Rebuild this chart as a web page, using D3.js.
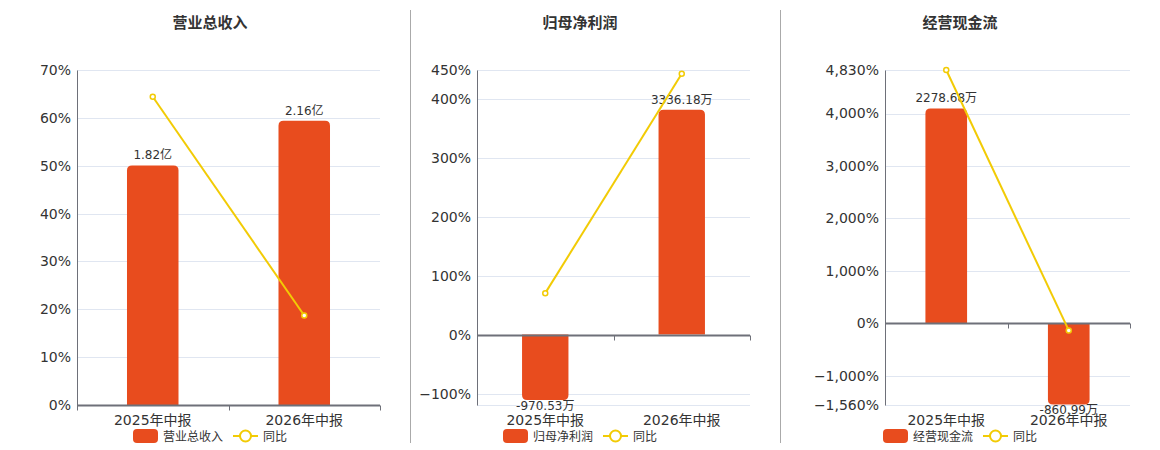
<!DOCTYPE html>
<html>
<head>
<meta charset="utf-8">
<script src="https://cdn.jsdelivr.net/npm/d3@7"></script>
<style>
  body { margin: 0; background: #fff; }
  text { font-family: "DejaVu Sans", "Noto Sans CJK SC", sans-serif; }
</style>
</head>
<body>
<svg id="chart" width="1160" height="450"></svg>
<script>
// data
const periods = ["2025年中报", "2026年中报"];
const titles = ["营业总收入", "归母净利润", "经营现金流"];
const barNames = ["营业总收入", "归母净利润", "经营现金流"];
const revenue = [1.82, 2.16];          // 亿
const netProfit = [-970.53, 3336.18];  // 万
const cashFlow = [2278.68, -860.99];   // 万
const revenueYoy = [64.4, 18.7];
const profitYoy = [71.0, 443.7];
const cashYoy = [4830, -137.8];
const revenueLabels = ["1.82亿", "2.16亿"];
const profitLabels = ["-970.53万", "3336.18万"];
const cashLabels = ["2278.68万", "-860.99万"];
const revenueTicks = [0, 10, 20, 30, 40, 50, 60, 70];
const profitTicks = [-100, 0, 100, 200, 300, 400, 450];
const cashTicks = [-1560, -1000, 0, 1000, 2000, 3000, 4000, 4830];
const revenuePctDomain = [0, 70];
const profitPctDomain = [-119, 450];
const cashPctDomain = [-1560, 4830];
const revenueBarDomain = [0, 2.545];
const profitBarDomain = [-1046, 3927];
const cashBarDomain = [-867, 2686];

const barColor = "#E84C1E";
const lineColor = "#F2CB05";
const svg = d3.select("#chart");
const plotTop = 70, plotBottom = 405;
const fmt = d3.format(",");

function drawPanel(p) {
    const g = svg.append("g");

    const x = d3.scaleBand().domain(periods).range([p.left, p.right]);
    const y = d3.scaleLinear().domain(p.pctDomain).range([plotBottom, plotTop]);
    const yb = d3.scaleLinear().domain(p.barDomain).range([plotBottom, plotTop]);

    // title
    g.append("text")
        .attr("x", p.center)
        .attr("y", 28)
        .attr("text-anchor", "middle")
        .style("font-size", "15px")
        .style("font-weight", "bold")
        .style("fill", "#333")
        .text(p.title)

    // grid
    g.selectAll("line.grid")
        .data(p.ticks.concat([p.pctDomain[0]]))
        .enter()
        .append("line")
        .attr("class", "grid")
        .attr("x1", p.left)
        .attr("x2", p.right)
        .attr("y1", d => Math.round(y(d)) + 0.5)
        .attr("y2", d => Math.round(y(d)) + 0.5)
        .style("stroke", "#E0E6F1")

    // left axis
    const yAxis = d3.axisLeft(y)
        .tickValues(p.ticks)
        .tickSize(0)
        .tickPadding(6)
        .tickFormat(d => fmt(d) + "%");
    const ya = g.append("g")
        .attr("transform", "translate(" + p.left + ",0)")
        .call(yAxis);
    ya.select(".domain").style("stroke", "#6E7079");
    ya.selectAll("text")
        .style("font-size", "14px")
        .style("fill", "#333")

    // bars
    g.selectAll("path.bar")
        .data(p.bars)
        .enter()
        .append("path")
        .attr("class", "bar")
        .attr("d", function(d, i) {
            const bw = x.bandwidth() * 0.34;
            const cx = x(periods[i]) + x.bandwidth() / 2;
            const x0 = cx - bw / 2, x1 = cx + bw / 2;
            const y0 = yb(0), y1 = yb(d);
            const r = Math.min(5, Math.abs(y1 - y0) / 2);
            const s = d >= 0 ? 1 : -1;
            return "M" + x0 + "," + y0 +
                "L" + x0 + "," + (y1 + s * r) +
                "Q" + x0 + "," + y1 + " " + (x0 + r) + "," + y1 +
                "L" + (x1 - r) + "," + y1 +
                "Q" + x1 + "," + y1 + " " + x1 + "," + (y1 + s * r) +
                "L" + x1 + "," + y0 + "Z";
        })
        .style("fill", barColor)

    // bar labels
    g.selectAll("text.val")
        .data(p.bars)
        .enter()
        .append("text")
        .attr("class", "val")
        .attr("x", (d, i) => x(periods[i]) + x.bandwidth() / 2)
        .attr("y", d => d >= 0 ? yb(d) - 6 : yb(d) + 10)
        .attr("text-anchor", "middle")
        .style("font-size", "12px")
        .style("fill", "#333")
        .text((d, i) => p.labels[i])

    // category axis at zero
    const y0 = Math.round(y(0)) + 0.5;
    g.append("line")
        .attr("x1", p.left).attr("x2", p.right)
        .attr("y1", y0).attr("y2", y0)
        .style("stroke", "#6E7079")
        .style("stroke-width", 2)
    g.selectAll("line.xtick")
        .data([p.left, p.left + x.bandwidth(), p.right])
        .enter()
        .append("line")
        .attr("class", "xtick")
        .attr("x1", d => Math.round(d) + 0.5)
        .attr("x2", d => Math.round(d) + 0.5)
        .attr("y1", y0)
        .attr("y2", y0 + 5)
        .style("stroke", "#6E7079")
    g.selectAll("text.xl")
        .data(periods)
        .enter()
        .append("text")
        .attr("class", "xl")
        .attr("x", d => x(d) + x.bandwidth() / 2)
        .attr("y", plotBottom + 20)
        .attr("text-anchor", "middle")
        .style("font-size", "14px")
        .style("fill", "#333")
        .text(d => d)

    // yoy line
    const line = d3.line()
        .x((d, i) => x(periods[i]) + x.bandwidth() / 2)
        .y(d => y(d));
    g.append("path")
        .datum(p.yoy)
        .attr("d", line)
        .style("fill", "none")
        .style("stroke", lineColor)
        .style("stroke-width", 2)
    g.selectAll("circle.pt")
        .data(p.yoy)
        .enter()
        .append("circle")
        .attr("class", "pt")
        .attr("cx", (d, i) => x(periods[i]) + x.bandwidth() / 2)
        .attr("cy", d => y(d))
        .attr("r", 2.5)
        .style("fill", "#fff")
        .style("stroke", lineColor)
        .style("stroke-width", 1.5)

    // legend
    const lx = p.center - 77, ly = 436;
    g.append("rect")
        .attr("x", lx).attr("y", ly - 7)
        .attr("width", 25).attr("height", 14)
        .attr("rx", 4)
        .style("fill", barColor)
    g.append("text")
        .attr("x", lx + 30).attr("y", ly + 4.5)
        .style("font-size", "12px")
        .style("fill", "#333")
        .text(p.name)
    g.append("line")
        .attr("x1", lx + 100).attr("x2", lx + 125)
        .attr("y1", ly).attr("y2", ly)
        .style("stroke", lineColor)
        .style("stroke-width", 2)
    g.append("circle")
        .attr("cx", lx + 112.5).attr("cy", ly)
        .attr("r", 5.5)
        .style("fill", "#fff")
        .style("stroke", lineColor)
        .style("stroke-width", 2)
    g.append("text")
        .attr("x", lx + 130).attr("y", ly + 4.5)
        .style("font-size", "12px")
        .style("fill", "#333")
        .text("同比")
}

drawPanel({title: titles[0], name: barNames[0], center: 210, left: 77, right: 380,
    bars: revenue, labels: revenueLabels, yoy: revenueYoy, ticks: revenueTicks,
    pctDomain: revenuePctDomain, barDomain: revenueBarDomain});
drawPanel({title: titles[1], name: barNames[1], center: 580, left: 477, right: 750,
    bars: netProfit, labels: profitLabels, yoy: profitYoy, ticks: profitTicks,
    pctDomain: profitPctDomain, barDomain: profitBarDomain});
drawPanel({title: titles[2], name: barNames[2], center: 960, left: 885, right: 1130,
    bars: cashFlow, labels: cashLabels, yoy: cashYoy, ticks: cashTicks,
    pctDomain: cashPctDomain, barDomain: cashBarDomain});

// dividers
svg.selectAll("line.div")
    .data([410, 780])
    .enter()
    .append("line")
    .attr("class", "div")
    .attr("x1", d => d + 0.5).attr("x2", d => d + 0.5)
    .attr("y1", 10).attr("y2", 443)
    .style("stroke", "#AAAAAA")
</script>
</body>
</html>
